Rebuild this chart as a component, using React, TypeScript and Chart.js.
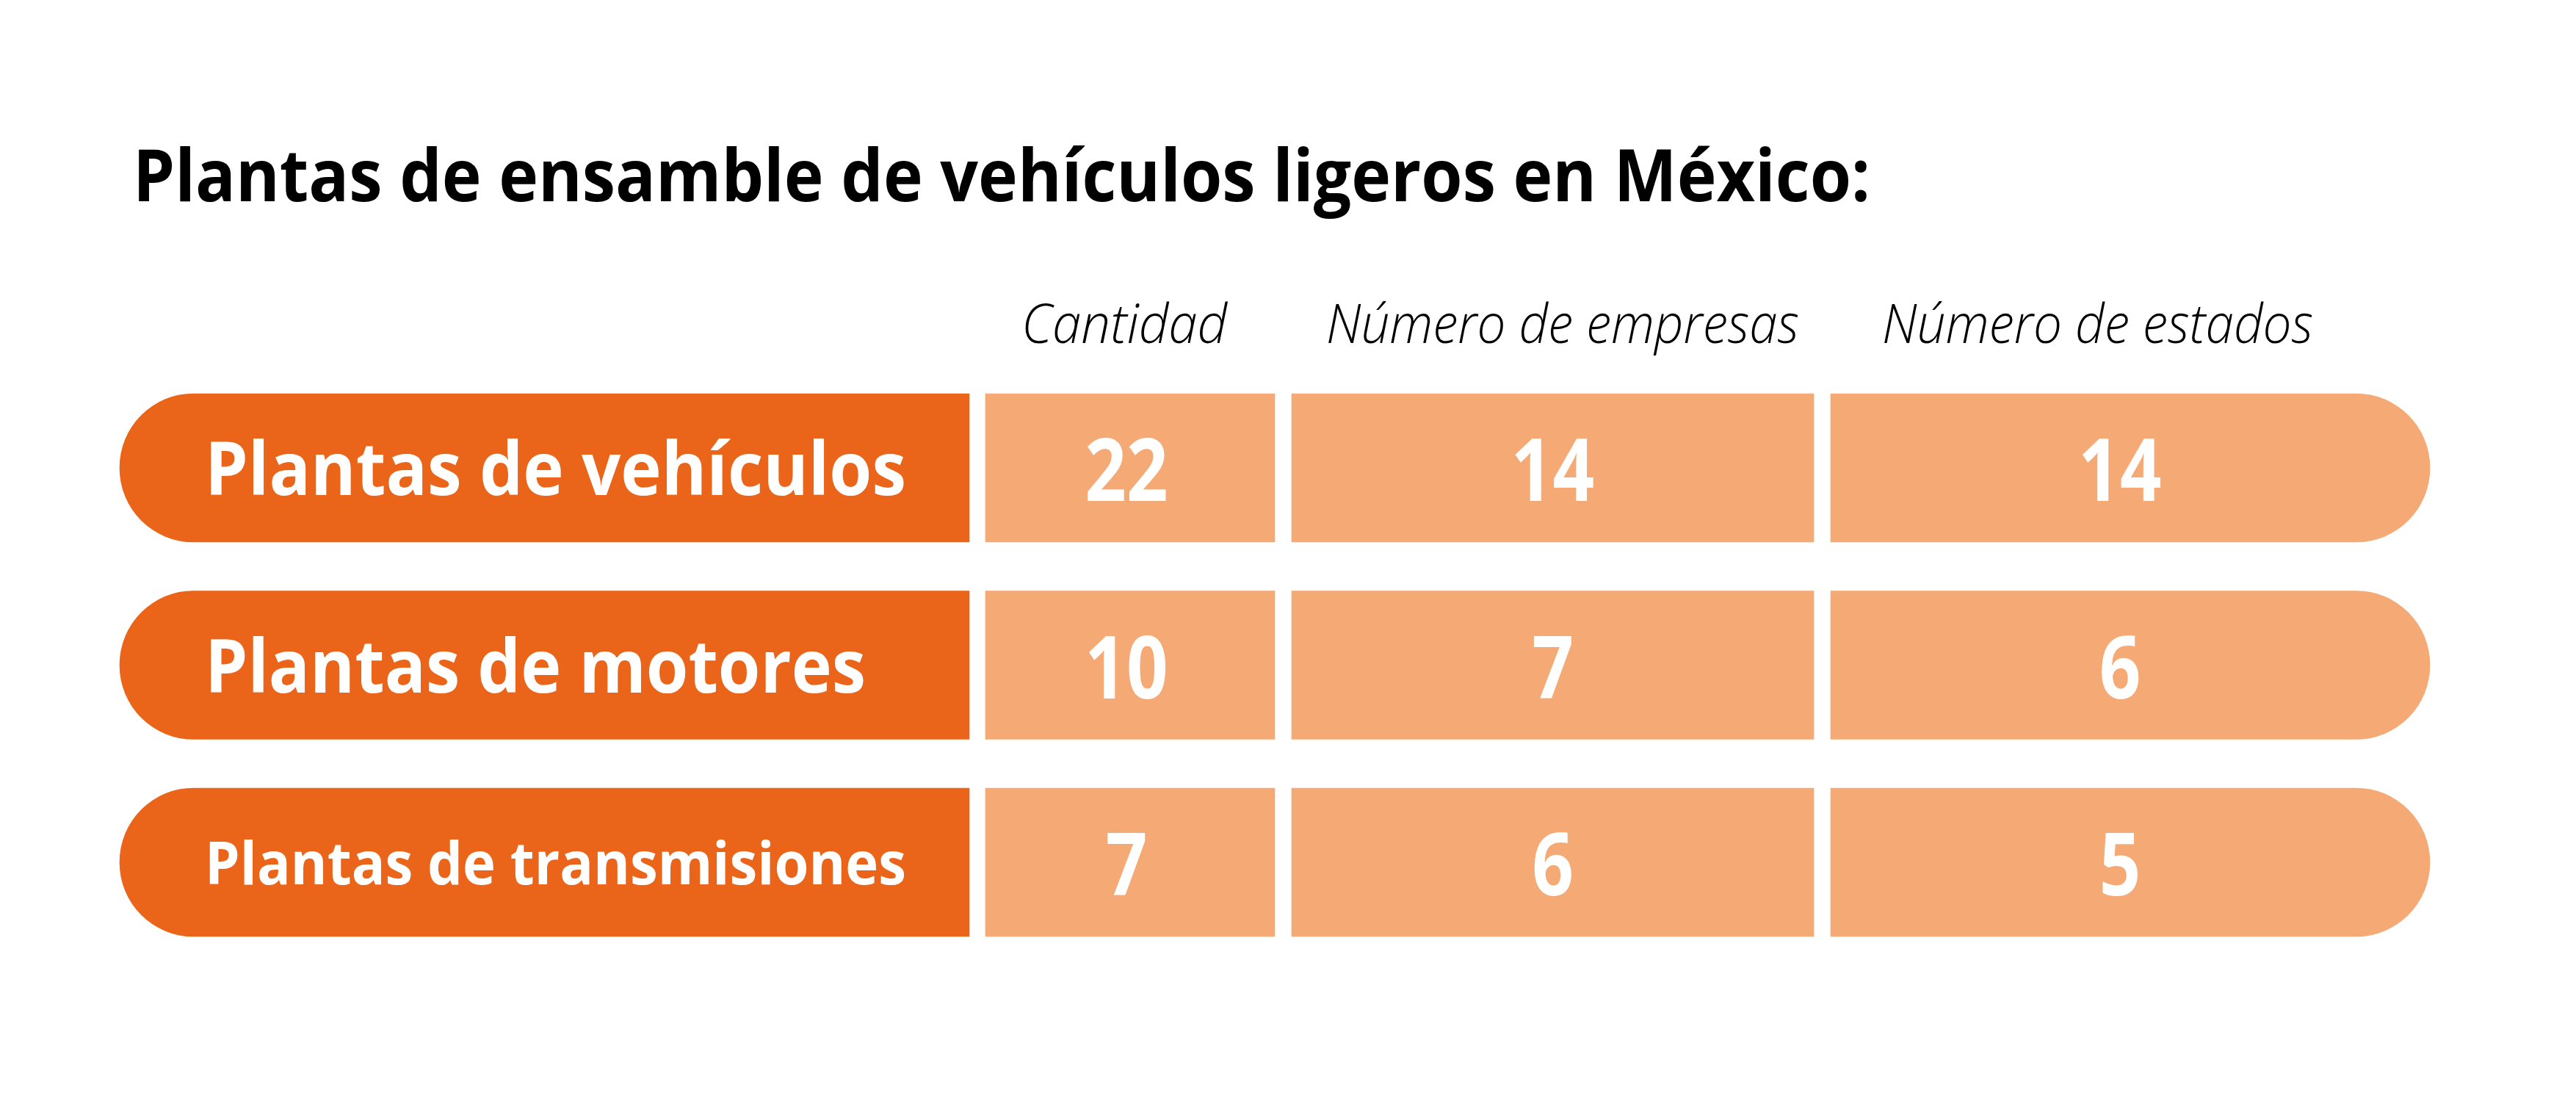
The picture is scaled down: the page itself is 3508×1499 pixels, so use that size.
import React, { useEffect, useRef } from 'react';
import { Chart, registerables } from 'chart.js';

Chart.register(...registerables);

// ---------- data ----------
const TITLE = 'Plantas de ensamble de vehículos ligeros en México:';
const ROW_LABELS = ['Plantas de vehículos', 'Plantas de motores', 'Plantas de transmisiones'];
const COLUMN_HEADERS = ['Cantidad', 'Número de empresas', 'Número de estados'];
const CANTIDAD = [22, 10, 7];
const NUM_EMPRESAS = [14, 7, 6];
const NUM_ESTADOS = [14, 6, 5];

// ---------- layout / style ----------
const W = 3508;
const H = 1499;
const LABEL_SPAN: [number, number] = [163, 1320];
const VALUE_SPANS: [number, number][] = [[1342, 1736], [1759, 2470], [2493, 3309]];
const VALUE_SHIFT = [-5, 0, -14];
const HEADER_LEFT = [1395, 1810, 2567];
const HEADER_WIDTH = [274, 638, 581];
const HEADER_BASELINE = 467;
const ROW_LABEL_LEFT = 279;
const ROW_LABEL_WIDTH = [955, 900, 955];
const ROW_LABEL_SIZE = [100, 100, 81];
const TITLE_X = 181;
const TITLE_BASELINE = 274;
const TITLE_WIDTH = 2366;
const PILL_R = 101;
const DARK = '#EA6519';
const LIGHT = '#F5A974';
const FONT = '"Open Sans", "Noto Sans", sans-serif';

function fillFitted(ctx: CanvasRenderingContext2D, text: string, x: number, y: number, width: number, align: 'left' | 'center') {
  const w = ctx.measureText(text).width;
  const s = width / w;
  ctx.save();
  ctx.translate(x, y);
  ctx.scale(s, 1);
  ctx.textAlign = 'left';
  ctx.textBaseline = 'alphabetic';
  ctx.fillText(text, align === 'center' ? -w / 2 : 0, 0);
  ctx.restore();
}

function fillScaled(ctx: CanvasRenderingContext2D, text: string, cx: number, y: number, sx: number) {
  const w = ctx.measureText(text).width;
  ctx.save();
  ctx.translate(cx, y);
  ctx.scale(sx, 1);
  ctx.textAlign = 'left';
  ctx.textBaseline = 'alphabetic';
  ctx.fillText(text, -w / 2, 0);
  ctx.restore();
}

const textPlugin = {
  id: 'tableText',
  afterDatasetsDraw(chart: any) {
    const ctx: CanvasRenderingContext2D = chart.ctx;
    ctx.save();
    // title
    ctx.fillStyle = '#000000';
    ctx.font = `700 98px ${FONT}`;
    fillFitted(ctx, TITLE, TITLE_X, TITLE_BASELINE, TITLE_WIDTH, 'left');
    // column headers
    ctx.font = `italic 300 73px ${FONT}`;
    COLUMN_HEADERS.forEach((h, i) => {
      fillFitted(ctx, h, HEADER_LEFT[i] - 4, HEADER_BASELINE, HEADER_WIDTH[i] + 6, 'left');
    });
    // row labels
    ctx.fillStyle = '#FFFFFF';
    const labelMeta = chart.getDatasetMeta(0);
    labelMeta.data.forEach((el: any, i: number) => {
      const size = ROW_LABEL_SIZE[i];
      ctx.font = `700 ${size}px ${FONT}`;
      fillFitted(ctx, ROW_LABELS[i], ROW_LABEL_LEFT, el.y + size * 0.36 + 1, ROW_LABEL_WIDTH[i], 'left');
    });
    // values
    ctx.font = `700 118px ${FONT}`;
    for (let d = 1; d < chart.data.datasets.length; d++) {
      const ds = chart.data.datasets[d];
      const meta = chart.getDatasetMeta(d);
      meta.data.forEach((el: any, i: number) => {
        const cx = (el.x + el.base) / 2 + VALUE_SHIFT[d - 1];
        fillScaled(ctx, String(ds.values[i]), cx, el.y + 45, 0.84);
      });
    }
    ctx.restore();
  },
};

export default function App() {
  const ref = useRef<HTMLCanvasElement | null>(null);
  useEffect(() => {
    if (!ref.current) return;
    const cols = [CANTIDAD, NUM_EMPRESAS, NUM_ESTADOS];
    const datasets: any[] = [
      {
        label: 'Tipo de planta',
        data: ROW_LABELS.map(() => [LABEL_SPAN[0], LABEL_SPAN[1]]),
        backgroundColor: DARK,
        borderSkipped: false,
        borderWidth: 0,
        borderRadius: { topLeft: PILL_R, bottomLeft: PILL_R, topRight: 0, bottomRight: 0 },
        grouped: false,
        barThickness: 202,
      },
      ...cols.map((vals, c) => ({
        label: COLUMN_HEADERS[c],
        values: vals,
        data: vals.map(() => [VALUE_SPANS[c][0], VALUE_SPANS[c][1]]),
        backgroundColor: LIGHT,
        borderSkipped: false,
        borderWidth: 0,
        borderRadius: c === cols.length - 1
          ? { topLeft: 0, bottomLeft: 0, topRight: PILL_R, bottomRight: PILL_R }
          : 0,
        grouped: false,
        barThickness: 202,
      })),
    ];
    const chart = new Chart(ref.current, {
      type: 'bar',
      data: { labels: ROW_LABELS, datasets },
      options: {
        indexAxis: 'y',
        animation: false,
        responsive: false,
        devicePixelRatio: 1,
        layout: { padding: { top: 502.75, bottom: 190.75, left: 0, right: 0 } },
        scales: {
          x: { type: 'linear', min: 0, max: W, display: false },
          y: { type: 'category', display: false, offset: true },
        },
        plugins: { legend: { display: false }, tooltip: { enabled: false }, title: { display: false } },
      } as any,
      plugins: [textPlugin],
    });
    return () => chart.destroy();
  }, []);
  return (
    <div style={{ position: 'absolute', left: 0, top: 0, width: W, height: H, background: '#FFFFFF' }}>
      <canvas ref={ref} width={W} height={H} style={{ width: W, height: H, display: 'block' }} />
    </div>
  );
}
